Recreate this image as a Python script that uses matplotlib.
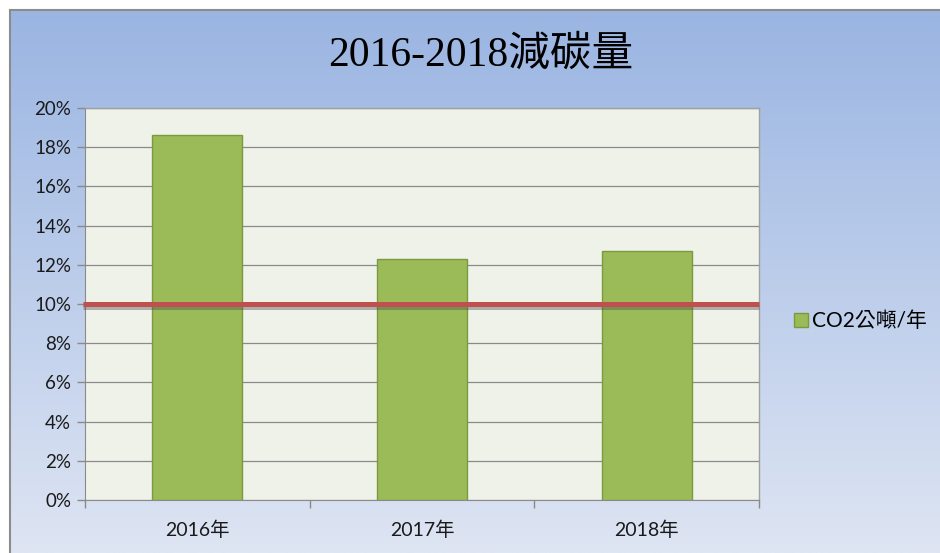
import numpy as np
import matplotlib
matplotlib.use("Agg")
import matplotlib.pyplot as plt
import matplotlib.patheffects as pe
from matplotlib.patches import Rectangle
from matplotlib.lines import Line2D
from matplotlib.ticker import FixedLocator, PercentFormatter

categories = ["2016年", "2017年", "2018年"]
values = [0.186, 0.123, 0.127]
target = 0.10
series_name = "CO2公噸/年"
title = "2016-2018減碳量"

W, H = 940, 553
fig = plt.figure(figsize=(W / 100, H / 100), dpi=100)
fig.patch.set_facecolor("white")

# background gradient panel
bg = fig.add_axes([10 / W, 0, 1 - 10 / W, 1 - 10 / H], zorder=0)
top_c = np.array([0x9a, 0xb5, 0xe2]) / 255
bot_c = np.array([0xde, 0xe5, 0xf3]) / 255
t = np.linspace(0, 1, 256)[:, None]
grad = top_c[None, :] * (1 - t) + bot_c[None, :] * t
grad = np.repeat(grad[:, None, :], 2, axis=1)
bg.imshow(grad, aspect="auto", extent=[0, 1, 0, 1], origin="upper")
bg.set_xlim(0, 1); bg.set_ylim(0, 1)
bg.axis("off")
fig.add_artist(Line2D([9.5 / W, 9.5 / W], [0, 1 - 9.5 / H], color="#8c8c8c", lw=1.5))
fig.add_artist(Line2D([9.5 / W, 1], [1 - 9.5 / H, 1 - 9.5 / H], color="#8c8c8c", lw=1.5))

fam = ["Lato", "Noto Sans CJK TC", "DejaVu Sans"]

ax = fig.add_axes([85 / W, 1 - 500 / H, (759 - 85) / W, (500 - 108) / H], zorder=1)
ax.set_facecolor("#eff2e9")
x = np.arange(len(categories))
ax.bar(x, values, width=0.4, color="#9bbb59", edgecolor="#7b9a3e", linewidth=1, zorder=3)
ax.set_xlim(-0.5, len(categories) - 0.5)
ax.set_ylim(0, 0.20)
ax.yaxis.set_major_locator(FixedLocator(np.arange(0, 0.201, 0.02)))
ax.yaxis.set_major_formatter(PercentFormatter(1.0, decimals=0))
ax.grid(axis="y", color="#8a8a8a", lw=0.9, zorder=1)
ax.set_axisbelow(True)

ax.plot([-0.51, len(categories) - 0.5], [target, target], color="#c0504d", lw=3.6,
        solid_capstyle="butt", clip_on=False, zorder=4,
        path_effects=[pe.SimpleLineShadow(offset=(0, -2.2), shadow_color="#4a4a4a", alpha=0.4),
                      pe.Normal()])

ax.set_xticks(x)
ax.set_xticklabels(categories, fontfamily=fam, fontsize=14, color="#1a1a1a")
ax.set_xticks(np.arange(-0.5, len(categories), 1.0), minor=True)
ax.tick_params(axis="x", which="major", length=0, pad=15)
ax.tick_params(axis="x", which="minor", length=6, color="#8a8a8a", width=1)
ax.tick_params(axis="y", length=6, color="#8a8a8a", width=1, pad=4, labelsize=13.5, labelcolor="#1a1a1a")
for lab in ax.get_yticklabels():
    lab.set_fontfamily(fam)

for s in ["top", "right"]:
    ax.spines[s].set_color("#a0a0a0")
    ax.spines[s].set_linewidth(1)
ax.spines["left"].set_color("#8a8a8a")
ax.spines["bottom"].set_color("#8a8a8a")

handle = Rectangle((0, 0), 1, 1, facecolor="#9bbb59", edgecolor="#7b9a3e", lw=1)
leg = fig.legend([handle], [series_name], loc="center left",
                 bbox_to_anchor=(794 / W, 1 - 321 / H), frameon=False,
                 prop={"family": fam, "size": 15}, handlelength=0.65, handleheight=0.65,
                 handletextpad=0.2, borderaxespad=0, borderpad=0)

fig.text(481 / W, 1 - 55 / H, title, ha="center", va="center", fontsize=30,
         fontfamily=["Liberation Serif", "Noto Sans CJK TC", "DejaVu Sans"], color="black")

fig.savefig("out.png", dpi=100)
